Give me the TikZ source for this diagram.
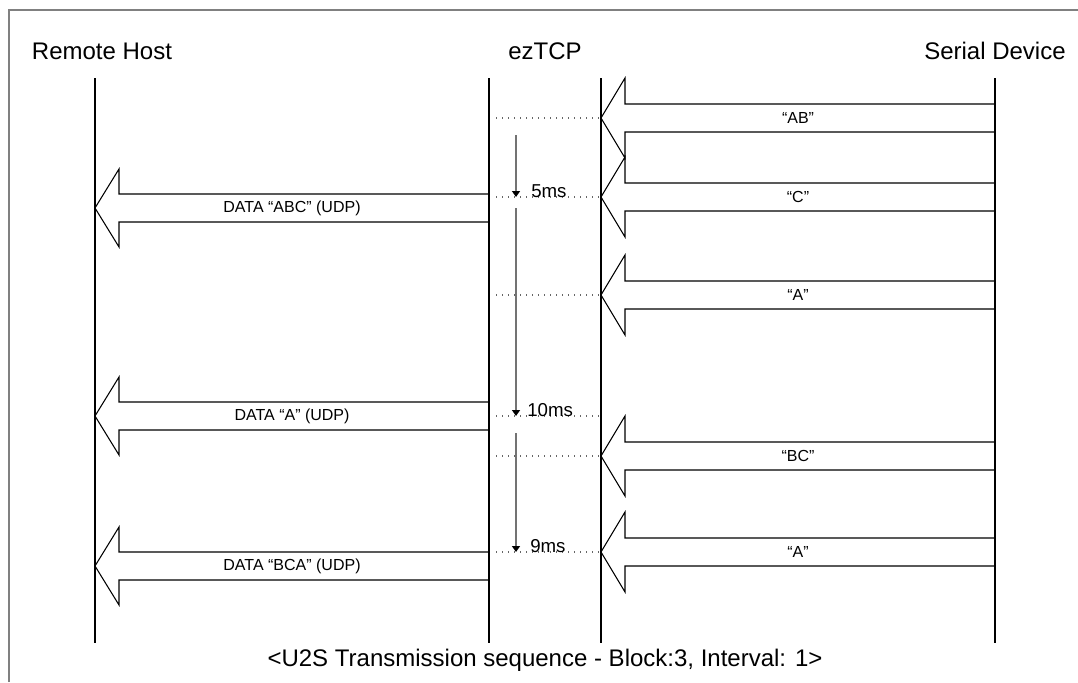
\documentclass[tikz,border=0pt]{standalone}
\usepackage{fontspec}
\setmainfont{Liberation Sans}
\usetikzlibrary{arrows.meta}
\begin{document}
\begin{tikzpicture}[x=0.75pt,y=-0.75pt,line join=miter,
	life/.style={line width=1.6pt},
	blk/.style={draw,fill=white,line width=0.8pt},
	tick/.style={draw=black!60,dash pattern=on 0.8pt off 3.7pt,line width=0.8pt},
	gap/.style={draw=black!55,line width=1.1pt,-{Triangle[black,width=6pt,length=4.5pt]}},
	lbl/.style={font=\fontsize{18}{20}\selectfont},
	msg/.style={font=\fontsize{12}{14}\selectfont,inner sep=0pt},
	ms/.style={font=\fontsize{14}{16}\selectfont,inner sep=0pt,anchor=base west}]
		\useasboundingbox (0,0) rectangle (1078,682);
		\draw[black!50,line width=1.1pt] (9,682)--(9,10)--(1078,10);
		\def\ser(#1){(601,#1)--(625,#1-40)--(625,#1-14)--(995,#1-14)--(995,#1+14)--(625,#1+14)--(625,#1+40)--cycle};
		\def\hst(#1){(95,#1)--(119,#1-39)--(119,#1-14)--(489,#1-14)--(489,#1+14)--(119,#1+14)--(119,#1+39)--cycle};
		
		% serial device -> ezTCP
		\draw[blk] \ser(118); \node[msg] (s1) at (798,118){“AB”};
		\draw[blk] \ser(197); \node[msg] (s2) at (798,197){“C”};
		\draw[blk] \ser(295); \node[msg] (s3) at (798,295){“A”};
		\draw[blk] \ser(456); \node[msg] (s4) at (798,456){“BC”};
		\draw[blk] \ser(552); \node[msg] (s5) at (798,552){“A”};
		% ezTCP -> remote host
		\draw[blk] \hst(208); \node[msg] (u1) at (292,208){DATA “ABC” (UDP)};
		\draw[blk] \hst(416); \node[msg] (u2) at (292,416){DATA “A” (UDP)};
		\draw[blk] \hst(566); \node[msg] (u3) at (292,566){DATA “BCA” (UDP)};
		
		\node[lbl] (host) at (102,51){Remote Host};
		\node[lbl] (ez) at (545,51){ezTCP};
		\node[lbl] (dev) at (995,51){Serial Device};
		\coordinate (h1) at (95,78); \coordinate (h2) at (95,643);
		\coordinate (e1) at (489,78); \coordinate (e2) at (489,643);
		\coordinate (f1) at (601,78); \coordinate (f2) at (601,643);
		\coordinate (d1) at (995,78); \coordinate (d2) at (995,643);
		\draw[life] (h1)--(h2);
		\draw[life] (e1)--(e2);
		\draw[life] (f1)--(f2);
		\draw[life] (d1)--(d2);
		
		\draw[tick] (496,118)--(601,118);
		\draw[tick] (496,197)--(601,197);
		\draw[tick] (496,295)--(601,295);
		\draw[tick] (496,416)--(601,416);
		\draw[tick] (496,456)--(601,456);
		\draw[tick] (496,552)--(601,552);
		
		\coordinate (t0) at (516,135); \coordinate (t1) at (516,197);
		\coordinate (t2) at (516,208); \coordinate (t3) at (516,416);
		\coordinate (t4) at (516,433); \coordinate (t5) at (516,552);
		\draw[gap] (t0)--(t1);
		\draw[gap] (t2)--(t3);
		\draw[gap] (t4)--(t5);
		\node[ms] (m1) at (531,197){5ms};
		\node[ms] (m2) at (527,416){10ms};
		\node[ms] (m3) at (530,552){9ms};
		
		\node[lbl] (cap) at (545,660){<U2S Transmission sequence - Block:3, Interval: 1>};
\end{tikzpicture}
\end{document}
